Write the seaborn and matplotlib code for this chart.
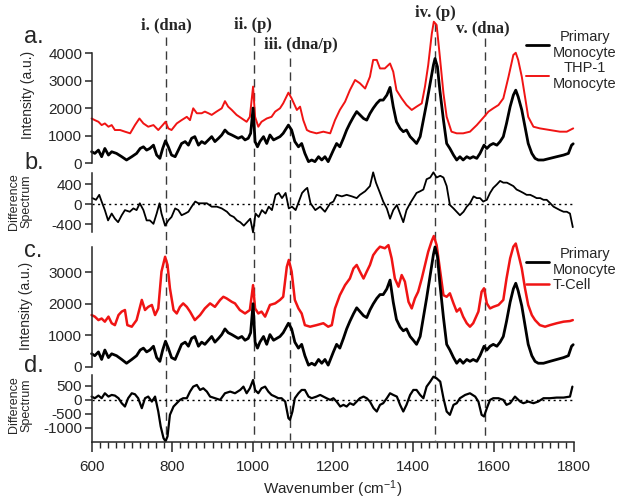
import seaborn as sns
import matplotlib.pyplot as plt
import matplotlib.transforms as mtransforms
from matplotlib.lines import Line2D
from matplotlib.ticker import MultipleLocator

# ---------------- data ----------------
wn_primary = [
    599, 607, 616, 624, 632, 641, 649, 661, 674, 686,
    699, 711, 720, 728, 736, 744, 753, 761, 769, 776,
    783, 790, 798, 807, 815, 823, 832, 840, 848, 856,
    865, 873, 881, 890, 898, 906, 915, 923, 931, 939,
    948, 956, 964, 973, 981, 989, 995, 1001, 1006, 1012,
    1018, 1027, 1035, 1043, 1052, 1060, 1068, 1076, 1089, 1097,
    1105, 1114, 1122, 1130, 1139, 1147, 1155, 1164, 1172, 1180,
    1188, 1201, 1209, 1217, 1226, 1234, 1242, 1251, 1259, 1267,
    1276, 1284, 1292, 1300, 1309, 1317, 1325, 1334, 1342, 1350,
    1358, 1367, 1375, 1383, 1392, 1400, 1408, 1417, 1425, 1433,
    1442, 1450, 1454, 1460, 1466, 1475, 1483, 1491, 1500, 1508,
    1516, 1524, 1533, 1541, 1549, 1558, 1566, 1576, 1583, 1591,
    1599, 1608, 1616, 1624, 1632, 1641, 1649, 1655, 1661, 1670,
    1678, 1686, 1695, 1703, 1711, 1724, 1740, 1757, 1774, 1786,
    1794, 1798]
int_primary = [
    412, 350, 470, 230, 530, 290, 410, 350, 230, 110,
    230, 350, 530, 590, 470, 530, 650, 290, 170, 530,
    810, 590, 290, 230, 470, 710, 780, 650, 900, 960,
    650, 780, 710, 840, 960, 780, 900, 1020, 1200, 1080,
    1020, 960, 900, 960, 840, 900, 1080, 2000, 780, 590,
    780, 960, 710, 1020, 840, 900, 960, 1080, 1380, 1200,
    780, 590, 710, 350, 50, 110, 50, 230, 110, 230,
    50, 470, 710, 590, 900, 1200, 1440, 1680, 1870, 1750,
    1620, 1560, 1800, 1990, 2170, 2290, 2290, 2470, 2750, 2050,
    1500, 1260, 1140, 1200, 960, 840, 710, 960, 1560, 2170,
    2900, 3560, 3800, 3500, 2650, 1560, 710, 530, 290, 110,
    230, 110, 230, 170, 230, 170, 350, 650, 530, 650,
    710, 650, 780, 960, 1440, 2050, 2470, 2650, 2410, 1930,
    1320, 710, 350, 170, 110, 110, 170, 230, 290, 350,
    650, 700]

wn_thp1 = [
    599, 607, 616, 624, 632, 641, 649, 657, 670, 682,
    695, 707, 718, 728, 740, 753, 765, 776, 783, 790,
    798, 811, 823, 836, 844, 852, 861, 873, 881, 890,
    898, 910, 923, 931, 939, 948, 960, 973, 985, 993,
    1001, 1006, 1014, 1022, 1035, 1047, 1056, 1068, 1076, 1089,
    1097, 1110, 1118, 1126, 1135, 1143, 1159, 1176, 1193, 1205,
    1217, 1230, 1242, 1255, 1267, 1280, 1292, 1300, 1309, 1317,
    1329, 1342, 1350, 1358, 1371, 1383, 1396, 1408, 1421, 1429,
    1437, 1446, 1451, 1458, 1466, 1475, 1483, 1495, 1508, 1524,
    1541, 1558, 1576, 1587, 1599, 1612, 1624, 1637, 1649, 1655,
    1661, 1670, 1678, 1686, 1699, 1715, 1740, 1765, 1782, 1798]
int_thp1 = [
    1620, 1560, 1500, 1380, 1440, 1320, 1380, 1200, 1200, 1140,
    1080, 1380, 1620, 1440, 1320, 1380, 1200, 1380, 1500, 1260,
    1200, 1440, 1560, 1680, 1560, 1990, 1810, 1810, 1870, 1810,
    1750, 1870, 1990, 2250, 2050, 1930, 1750, 1620, 1500, 1680,
    2780, 1680, 1320, 1500, 1620, 1680, 1870, 1990, 2170, 2560,
    2350, 1930, 2050, 1560, 1200, 1140, 1080, 1140, 1080, 1560,
    1930, 2230, 2650, 3020, 2900, 2710, 3140, 3750, 3750, 3440,
    3440, 3620, 3320, 2650, 2350, 2110, 1930, 2050, 2170, 2780,
    3560, 4710, 5140, 5020, 3870, 2530, 1680, 1140, 1080, 1080,
    1140, 1380, 1680, 1870, 1990, 2110, 2350, 3140, 3930, 4010,
    3750, 3140, 2410, 1680, 1320, 1260, 1200, 1140, 1140, 1260]

wn_tcell = [
    599, 607, 616, 624, 632, 641, 649, 657, 666, 674,
    682, 688, 699, 711, 724, 732, 740, 749, 757, 765,
    773, 782, 788, 794, 803, 811, 819, 827, 836, 844,
    856, 869, 881, 894, 906, 919, 927, 935, 948, 956,
    968, 981, 993, 1001, 1006, 1014, 1022, 1031, 1043, 1056,
    1068, 1076, 1085, 1090, 1097, 1105, 1114, 1122, 1130, 1143,
    1159, 1176, 1188, 1197, 1205, 1217, 1230, 1242, 1251, 1259,
    1267, 1276, 1284, 1292, 1300, 1309, 1317, 1329, 1338, 1346,
    1354, 1363, 1371, 1379, 1388, 1396, 1404, 1412, 1421, 1429,
    1437, 1446, 1451, 1458, 1466, 1475, 1483, 1491, 1500, 1508,
    1516, 1524, 1533, 1541, 1549, 1562, 1570, 1576, 1583, 1591,
    1599, 1612, 1624, 1632, 1641, 1649, 1655, 1661, 1670, 1678,
    1686, 1695, 1703, 1715, 1728, 1740, 1757, 1774, 1790, 1797]
int_tcell = [
    1640, 1590, 1480, 1530, 1430, 1590, 1380, 1320, 1640, 1750,
    1800, 1320, 1270, 1480, 2120, 1800, 1900, 1960, 1640, 1850,
    3020, 3490, 3230, 2490, 1800, 1690, 1900, 2010, 1900, 1750,
    1480, 1640, 1850, 2010, 1900, 2120, 2220, 2170, 2060, 2010,
    1800, 1690, 1800, 2590, 1850, 1690, 1750, 1590, 1960, 2010,
    2120, 2220, 3170, 3390, 3020, 2120, 1850, 1690, 1320, 1270,
    1320, 1380, 1270, 1320, 1850, 2270, 2590, 2800, 3120, 3230,
    3020, 2800, 3020, 3230, 3540, 3700, 3810, 3760, 3860, 3440,
    2800, 2540, 2910, 2700, 2060, 1850, 2170, 2380, 2800, 3230,
    3650, 4000, 4150, 3860, 3120, 2270, 2220, 2330, 2010, 1750,
    1850, 1590, 1380, 1270, 1380, 1750, 2380, 2490, 2010, 1850,
    1900, 1960, 2120, 2800, 3440, 3810, 3910, 3600, 3120, 2490,
    1960, 1640, 1480, 1320, 1270, 1320, 1380, 1430, 1450, 1480]

wn_diff_b = [
    601, 610, 618, 624, 632, 640, 649, 657, 665, 674,
    682, 694, 703, 711, 719, 728, 736, 744, 753, 761,
    768, 773, 782, 790, 798, 807, 815, 823, 832, 840,
    848, 857, 865, 873, 886, 898, 911, 923, 936, 944,
    953, 961, 969, 978, 986, 994, 1001, 1007, 1015, 1023,
    1032, 1040, 1048, 1057, 1065, 1073, 1082, 1090, 1098, 1107,
    1115, 1123, 1131, 1136, 1144, 1156, 1168, 1180, 1193, 1201,
    1209, 1222, 1234, 1247, 1259, 1267, 1280, 1292, 1300, 1307,
    1317, 1325, 1334, 1342, 1350, 1359, 1367, 1375, 1383, 1392,
    1400, 1408, 1417, 1425, 1433, 1442, 1450, 1458, 1467, 1475,
    1483, 1491, 1500, 1508, 1516, 1525, 1533, 1541, 1550, 1558,
    1566, 1574, 1583, 1591, 1599, 1608, 1616, 1624, 1633, 1641,
    1649, 1657, 1666, 1674, 1682, 1691, 1699, 1707, 1716, 1724,
    1732, 1741, 1749, 1757, 1765, 1774, 1782, 1790, 1797]
diff_b = [
    124, 90, 190, 55, -117, -324, -186, -290, -360, -220,
    -117, -150, -83, -117, 20, -117, -324, -324, -393, -186,
    20, -186, -430, -324, -255, -83, -117, -220, -186, -150,
    -48, 55, 20, 20, 20, -48, -48, -83, -150, -220,
    -255, -324, -360, -430, -360, -290, -565, -186, -255, -117,
    -186, -48, -117, 190, 228, 124, 228, -83, -48, -117,
    55, 228, 297, 330, 20, -117, -48, -150, 20, 55,
    190, 159, 190, 159, 124, 190, 262, 366, 642, 435,
    228, 55, -83, -290, -117, -14, -186, -360, -117, 20,
    124, 228, 262, 297, 504, 538, 642, 538, 573, 538,
    366, -14, -83, -150, -220, -150, -48, 20, 159, 124,
    124, 55, 90, 228, 330, 400, 470, 435, 435, 400,
    366, 297, 262, 228, 190, 190, 159, 124, 124, 90,
    90, 20, -48, -83, -117, -150, -150, -186, -460]

wn_diff_d = [
    599, 607, 616, 624, 632, 641, 649, 657, 666, 674,
    682, 690, 699, 707, 715, 724, 732, 740, 749, 757,
    765, 771, 778, 783, 788, 794, 803, 811, 819, 827,
    836, 844, 852, 861, 869, 877, 886, 894, 906, 919,
    931, 944, 956, 969, 977, 985, 993, 1001, 1006, 1014,
    1022, 1031, 1039, 1047, 1056, 1064, 1072, 1081, 1089, 1093,
    1099, 1105, 1114, 1122, 1130, 1139, 1147, 1159, 1168, 1176,
    1184, 1193, 1201, 1209, 1218, 1226, 1234, 1242, 1251, 1259,
    1267, 1276, 1284, 1292, 1301, 1309, 1317, 1325, 1334, 1342,
    1350, 1359, 1367, 1375, 1383, 1392, 1400, 1408, 1417, 1425,
    1433, 1442, 1450, 1458, 1467, 1475, 1483, 1491, 1500, 1508,
    1516, 1529, 1541, 1554, 1562, 1570, 1576, 1583, 1591, 1599,
    1612, 1624, 1632, 1641, 1653, 1666, 1674, 1686, 1699, 1711,
    1724, 1740, 1757, 1774, 1790, 1796]
diff_d = [
    119, 60, 155, 60, 238, 119, 178, 155, 60, -119,
    -238, 60, 238, 202, 60, -298, 60, 119, -60, 119,
    -417, -952, -1369, -1488, -1309, -536, -238, -119, 0, 60,
    60, 298, 476, 536, 357, 417, 298, 119, 60, 0,
    238, 298, 238, 357, 476, 238, 417, 714, 357, 238,
    417, 476, 298, 178, 119, 60, 60, -60, -655, -714,
    -417, 60, 238, 357, 357, 119, 60, 119, 178, 119,
    60, 0, 60, -60, -238, -178, -238, -119, -178, -60,
    60, 119, 60, -60, -298, -417, -178, -119, 60, 238,
    178, 119, -178, -417, -178, 178, 357, 357, 178, 60,
    476, 655, 833, 774, 655, 60, -417, -536, -178, -119,
    60, 178, 238, 119, -60, -536, -595, -298, 0, 60,
    60, 0, -178, -119, 119, -60, -119, -60, -119, -60,
    60, 60, 83, 83, 119, 476]

band_wn = [785, 1003, 1092, 1453, 1578]
band_labels = ["i. (dna)", "ii. (p)", "iii. (dna/p)", "iv. (p)", "v. (dna)"]

# ---------------- style ----------------
sns.set_style("ticks")
plt.rcParams['font.family'] = ['Liberation Sans', 'DejaVu Sans']
plt.rcParams['mathtext.default'] = 'regular'
plt.rcParams['axes.unicode_minus'] = False
plt.rcParams['axes.linewidth'] = 1.1
plt.rcParams['xtick.major.width'] = 1.1
plt.rcParams['ytick.major.width'] = 1.1
plt.rcParams['xtick.minor.width'] = 1.0

RED = '#f01414'
BLACK = '#000000'

fig = plt.figure(figsize=(6.26, 4.99), dpi=100)
left, width = 92 / 626, 482 / 626
ax_a = fig.add_axes([left, 0.6733, width, 0.2204])
ax_b = fig.add_axes([left, 0.5357, width, 0.1182])
ax_c = fig.add_axes([left, 0.2651, width, 0.2399])
ax_d = fig.add_axes([left, 0.1148, width, 0.1337])

# spectra (red drawn first so black sits on top)
sns.lineplot(x=wn_thp1, y=int_thp1, ax=ax_a, color=RED, lw=1.4,
             label="THP-1\nMonocyte", estimator=None, clip_on=False)
sns.lineplot(x=wn_primary, y=int_primary, ax=ax_a, color=BLACK, lw=2.0,
             label="Primary\nMonocyte", estimator=None, clip_on=False)
sns.lineplot(x=wn_diff_b, y=diff_b, ax=ax_b, color=BLACK, lw=1.3,
             estimator=None, clip_on=False)
sns.lineplot(x=wn_tcell, y=int_tcell, ax=ax_c, color=RED, lw=1.8,
             label="T-Cell", estimator=None, clip_on=False)
sns.lineplot(x=wn_primary, y=int_primary, ax=ax_c, color=BLACK, lw=2.0,
             label="Primary\nMonocyte", estimator=None, clip_on=False)
sns.lineplot(x=wn_diff_d, y=diff_d, ax=ax_d, color=BLACK, lw=1.6,
             estimator=None, clip_on=False)

for ax in (ax_b, ax_d):
    ax.axhline(0, color='k', lw=1.0, ls=(0, (1.5, 2.5)), zorder=1)

ax_a.set_ylim(0, 4000)
ax_b.set_ylim(-551, 635)
ax_c.set_ylim(0, 3800)
ax_d.set_ylim(-1500, 893)
ax_a.set_yticks([0, 1000, 2000, 3000, 4000])
ax_b.set_yticks([-400, 0, 400])
ax_c.set_yticks([0, 1000, 2000, 3000])
ax_d.set_yticks([-1000, -500, 0, 500])

for ax in (ax_a, ax_b, ax_c, ax_d):
    ax.set_xlim(600, 1800)
    sns.despine(ax=ax, top=True, right=True, bottom=(ax is not ax_d))
    ax.tick_params(axis='y', direction='out', length=5, labelsize=11, pad=2)
    if ax is not ax_d:
        ax.set_xticks([])
    ax.set_xlabel('')
    ax.patch.set_visible(False)

ax_d.xaxis.set_major_locator(MultipleLocator(200))
ax_d.xaxis.set_minor_locator(MultipleLocator(20))
ax_d.tick_params(axis='x', which='major', direction='out', length=7, labelsize=11, pad=6)
ax_d.tick_params(axis='x', which='minor', direction='out', length=4)
ax_d.set_xlabel('Wavenumber (cm$^{-1}$)', fontsize=11, labelpad=3)

ax_a.set_ylabel('Intensity (a.u.)', fontsize=10)
ax_a.yaxis.set_label_coords(-0.118, 0.62)
ax_c.set_ylabel('Intensity (a.u.)', fontsize=10)
ax_c.yaxis.set_label_coords(-0.122, 0.51)
ax_b.set_ylabel('Difference\nSpectrum', fontsize=9, linespacing=1.0)
ax_b.yaxis.set_label_coords(-0.124, 0.51)
ax_d.set_ylabel('Difference\nSpectrum', fontsize=9, linespacing=1.0)
ax_d.yaxis.set_label_coords(-0.124, 0.55)

# legends
for ax, ytop in ((ax_a, 30), (ax_c, 247)):
    h, l = ax.get_legend_handles_labels()
    leg = ax.legend(h[::-1], l[::-1], loc='upper left', frameon=False,
                    bbox_to_anchor=(526 / 626, 1 - ytop / 499),
                    bbox_transform=fig.transFigure, borderpad=0, borderaxespad=0,
                    handlelength=1.6, handletextpad=0.25, labelspacing=0.05,
                    fontsize=10.5)
    for t in leg.get_texts():
        t.set_multialignment('center')

# panel letters
for txt, py in (("a.", 37), ("b.", 163), ("c.", 251), ("d.", 366)):
    fig.text(24 / 626, 1 - py / 499, txt, fontsize=17, va='center', ha='left')

# band markers: dashed lines across all panels + labels
trans = mtransforms.blended_transform_factory(ax_d.transData, fig.transFigure)
line_tops = [37, 37, 58, 23, 38]
label_pos = [(785, 25), (1001, 25), (1120, 45), (1454, 13), (1572, 28)]
for wn, top, lab, (lx, ly) in zip(band_wn, line_tops, band_labels, label_pos):
    fig.add_artist(Line2D([wn, wn], [1 - top / 499, 1 - 440 / 499], transform=trans,
                          color='#3a3a3a', lw=1.0, ls=(0, (6, 4)), zorder=0))
    fig.text(lx, 1 - ly / 499, lab, transform=trans, ha='center', va='center',
             fontsize=12, fontweight='bold', family=['Liberation Serif', 'DejaVu Serif'])

fig.savefig('out.png', dpi=100)
